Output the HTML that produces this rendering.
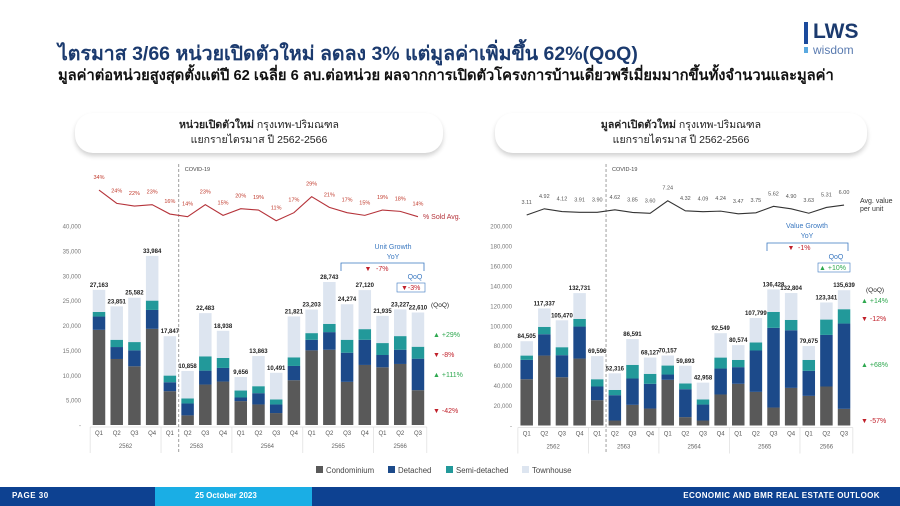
<!DOCTYPE html>
<html><head><meta charset="utf-8">
<style>
body{margin:0;width:900px;height:506px;overflow:hidden;background:#fff;font-family:"Liberation Sans","DejaVu Sans",sans-serif;position:relative}
.t{position:absolute;white-space:nowrap}
.hdr{position:absolute;border-radius:18px;box-shadow:0 3px 5px rgba(0,0,0,0.18);background:#fff;text-align:center;font-size:10.5px;color:#222;line-height:15px;padding-top:5px;box-sizing:border-box}
</style></head><body>
<div class="t" style="left:58px;top:38px;font-size:19.5px;color:#1b3a6e;font-weight:bold">ไตรมาส 3/66 หน่วยเปิดตัวใหม่ ลดลง 3% แต่มูลค่าเพิ่มขึ้น 62%(QoQ)</div>
<div class="t" style="left:58px;top:64px;font-size:14.7px;color:#111;font-weight:bold">มูลค่าต่อหน่วยสูงสุดตั้งแต่ปี 62 เฉลี่ย 6 ลบ.ต่อหน่วย ผลจากการเปิดตัวโครงการบ้านเดี่ยวพรีเมี่ยมมากขึ้นทั้งจำนวนและมูลค่า</div>
<div style="position:absolute;left:804px;top:20px">
<div style="position:absolute;left:0;top:2px;width:4px;height:22px;background:#1b4a9c"></div>
<div style="position:absolute;left:0;top:27px;width:4px;height:6px;background:#5aa9e0"></div>
<div class="t" style="left:9px;top:0;font-size:21px;font-weight:bold;color:#1b3a6e">LWS</div>
<div class="t" style="left:9px;top:23px;font-size:12px;color:#5a7bb0">wisdom</div>
</div>
<div class="hdr" style="left:75px;top:113px;width:368px;height:40px"><b>หน่วยเปิดตัวใหม่</b> กรุงเทพ-ปริมณฑล<br>แยกรายไตรมาส ปี 2562-2566</div>
<div class="hdr" style="left:495px;top:113px;width:372px;height:40px"><b>มูลค่าเปิดตัวใหม่</b> กรุงเทพ-ปริมณฑล<br>แยกรายไตรมาส ปี 2562-2566</div>

<svg id="chart" width="900" height="506" style="position:absolute;left:0;top:0" xmlns="http://www.w3.org/2000/svg" font-family="Liberation Sans, sans-serif"></svg>

<div style="position:absolute;left:0;top:487px;width:900px;height:19px;background:#0d4191">
<div style="position:absolute;left:155px;top:0;width:157px;height:19px;background:#1aaee5"></div>
<div class="t" style="left:12px;top:4px;font-size:8px;color:#fff;font-weight:bold;letter-spacing:0.5px">PAGE 30</div>
<div class="t" style="left:195px;top:4px;font-size:8px;color:#fff;font-weight:bold">25 October 2023</div>
<div class="t" style="right:20px;top:4px;font-size:8px;color:#fff;font-weight:bold;letter-spacing:0.4px">ECONOMIC AND BMR REAL ESTATE OUTLOOK</div>
</div>

<script>
const quarters=["Q1","Q2","Q3","Q4","Q1","Q2","Q3","Q4","Q1","Q2","Q3","Q4","Q1","Q2","Q3","Q4","Q1","Q2","Q3"];
const years=["2562","2563","2564","2565","2566"];
const yearSpans=[4,4,4,4,3];
const unitCondo=[19130,13270,11800,19330,6800,1930,8130,8730,4800,4130,2400,9000,15000,15130,8670,12070,11600,12270,7000];
const unitDetached=[2670,2400,3200,3800,1800,2400,2800,2740,730,2270,1730,2870,2130,3540,5860,5060,2470,2860,6330];
const unitSemi=[930,1460,1670,1870,1330,1000,2870,2000,1400,1400,1000,1730,1340,1660,2600,2140,2400,2740,2400];
const unitTotal=[27163,23851,25582,33984,17847,10858,22483,18938,9656,13863,10491,21821,23203,28743,24274,27120,21935,23227,22610];
const soldPct=[34,24,22,23,16,14,23,15,20,19,11,17,29,21,17,15,19,18,14];
const valCondo=[46400,70100,48400,67100,25400,5000,20700,17000,45800,8400,5000,31100,41800,33700,18000,37700,29700,39100,16700];
const valDetached=[19400,21400,22100,32100,13700,25400,26400,24800,5300,28000,16000,26000,16700,41500,79900,57800,25100,51700,85500];
const valSemi=[4300,7400,8000,7700,7300,5300,13700,10000,9000,5700,5100,11000,7300,8000,16000,10400,11000,15400,14400];
const valTotal=[84505,117337,105470,132731,69596,52316,86591,68127,70157,59893,42958,92549,80574,107799,136428,132804,79675,123341,135639];
const avgValue=[3.11,4.92,4.12,3.91,3.90,4.62,3.85,3.60,7.24,4.32,4.09,4.24,3.47,3.75,5.62,4.90,3.63,5.31,6.00];
const unitTicks=[0,5000,10000,15000,20000,25000,30000,35000,40000];
const valTicks=[0,20000,40000,60000,80000,100000,120000,140000,160000,180000,200000];

const svg=document.getElementById('chart');
const NS="http://www.w3.org/2000/svg";
const COLORS={condo:"#595959",det:"#1c4a8a",semi:"#22999a",town:"#dde5f0"};
function el(tag,attrs,parent){const e=document.createElementNS(NS,tag);for(const k in attrs)e.setAttribute(k,attrs[k]);(parent||svg).appendChild(e);return e;}
function txt(x,y,s,attrs,parent){const e=el('text',Object.assign({x:x,y:y},attrs),parent);e.textContent=s;return e;}
const fmt=v=>v.toLocaleString('en-US');

function drawChart(cfg){
  const g=el('g',{});
  
  
  const x=i=>cfg.x0+i*cfg.step;
  const y=v=>cfg.yBase-(v/cfg.max)*cfg.h;
  cfg.ticks.forEach(t=>{
    const l=txt(cfg.yLabelX,y(t)+2.5,t===0?"-":fmt(t),{'font-size':6,'fill':'#777','text-anchor':'end'},g);
    
    
  });
  const bw=12.5;
  for(let i=0;i<quarters.length;i++){
    const segs=[[cfg.condo[i],COLORS.condo,'condo'],[cfg.det[i],COLORS.det,'detached'],[cfg.semi[i],COLORS.semi,'semi'],[cfg.total[i]-cfg.condo[i]-cfg.det[i]-cfg.semi[i],COLORS.town,'townhouse']];
    let acc=0;
    segs.forEach(s=>{
      const r=el('rect',{x:x(i)-bw/2,y:y(acc+s[0]),width:bw,height:Math.max(0,y(acc)-y(acc+s[0])),fill:s[1]},g);
      
      
      acc+=s[0];
    });
    const lb=txt(x(i),y(cfg.total[i])-3,fmt(cfg.total[i]),{'font-size':6,'font-weight':'bold','fill':'#222','text-anchor':'middle'},g);
    
    
    const q=txt(x(i),cfg.yBase+10,quarters[i],{'font-size':6,'fill':'#555','text-anchor':'middle'},g);
    
    
  }
  let start=0;
  el('line',{x1:x(0)-cfg.step/2,x2:x(0)-cfg.step/2,y1:cfg.yBase+2,y2:cfg.yBase+28,stroke:'#ddd','stroke-width':0.7},g);
  years.forEach((yr,k)=>{
    const end=start+yearSpans[k];
    const xr=x(end-1)+cfg.step/2;
    el('line',{x1:xr,x2:xr,y1:cfg.yBase+2,y2:cfg.yBase+28,stroke:'#ddd','stroke-width':0.7},g);
    const yl=txt((x(start)+x(end-1))/2,cfg.yBase+23,yr,{'font-size':6,'fill':'#666','text-anchor':'middle'},g);
    
    
    start=end;
  });
  el('line',{x1:x(0)-cfg.step/2,x2:x(quarters.length-1)+cfg.step/2,y1:cfg.yBase+2,y2:cfg.yBase+2,stroke:'#ddd','stroke-width':0.7},g);
  const cx=(x(4)+x(5))/2;
  const cl=el('line',{x1:cx,x2:cx,y1:164,y2:cfg.yBase+28,stroke:'#888','stroke-width':0.8,'stroke-dasharray':'3,2'},g);
  
  
  txt(cx+6,171,"COVID-19",{'font-size':5.5,'fill':'#444'},g);
  const ly=v=>cfg.lineA-v*cfg.lineB;
  const pts=cfg.line.map((v,i)=>x(i)+','+ly(v)).join(' ');
  const pl=el('polyline',{points:pts,fill:'none',stroke:cfg.lineColor,'stroke-width':1.1},g);
  
  
  cfg.line.forEach((v,i)=>{
    const t=txt(x(i),ly(v)-11,cfg.lineFmt(v),{'font-size':5.5,'fill':cfg.lineLabelColor,'text-anchor':'middle'},g);
    
    
  });
  return g;
}
drawChart({name:'unit-chart',x0:99,step:17.72,yBase:425,h:199,max:40000,ticks:unitTicks,yLabelX:81,
  condo:unitCondo,det:unitDetached,semi:unitSemi,total:unitTotal,line:soldPct,lineA:235.4,lineB:1.335,
  lineColor:'#b5333a',lineLabelColor:'#c0392b',lineName:'sold-pct-line',lineFmt:v=>v+'%'});
drawChart({name:'value-chart',x0:526.7,step:17.63,yBase:425.5,h:199.5,max:200000,ticks:valTicks,yLabelX:512,
  condo:valCondo,det:valDetached,semi:valSemi,total:valTotal,line:avgValue,lineA:225.8,lineB:3.46,
  lineColor:'#333',lineLabelColor:'#555',lineName:'avg-value-line',lineFmt:v=>v.toFixed(2)});

function ann(x,y,s,color,size,anchor,name){const t=txt(x,y,s,{'font-size':size,'fill':color,'text-anchor':anchor||'start'});
  
  }
const G='#2ea84f',R='#c0202a',B='#3a78c0';
ann(423,219,"% Sold Avg.",'#b5333a',7,'start','sold-avg-label');
ann(393,249,"Unit Growth",B,7,'middle','unit-growth-title');
ann(393,259,"YoY",B,7,'middle','unit-yoy-title');
el('polyline',{points:'341,271 341,263 424,263 424,271',fill:'none',stroke:B,'stroke-width':0.8});
ann(368,271,"▼",R,7,'middle','unit-yoy-arrow');ann(376,271,"-7%",R,7,'start','unit-yoy-value');
ann(415,279,"QoQ",B,7,'middle','unit-qoq-title');
el('rect',{x:397,y:283,width:28,height:9,fill:'none',stroke:B,'stroke-width':0.6});
ann(401,290,"▼-3%",R,7,'start','unit-qoq-value');
ann(431,307,"(QoQ)",'#222',6.5,'start','unit-qoq-header');
ann(433,337,"▲ +29%",G,7,'start','qoq-townhouse');
ann(433,357,"▼ -8%",R,7,'start','qoq-semi');
ann(433,377,"▲ +111%",G,7,'start','qoq-detached');
ann(433,413,"▼ -42%",R,7,'start','qoq-condo');
ann(860,203,"Avg. value",'#333',7,'start','avg-value-label');
ann(860,211,"per unit",'#333',7,'start','avg-value-label2');
ann(807,228,"Value Growth",B,7,'middle','value-growth-title');
ann(807,238,"YoY",B,7,'middle','value-yoy-title');
el('polyline',{points:'767,251 767,243 848,243 848,251',fill:'none',stroke:B,'stroke-width':0.8});
ann(791,250,"▼",R,7,'middle','value-yoy-arrow');ann(798,250,"-1%",R,7,'start','value-yoy-value');
ann(836,259,"QoQ",B,7,'middle','value-qoq-title');
el('rect',{x:818,y:263,width:32,height:9,fill:'none',stroke:B,'stroke-width':0.6});
ann(819,270,"▲ +10%",G,7,'start','value-qoq-value');
ann(866,292,"(QoQ)",'#222',6.5,'start','value-qoq-header');
ann(861,303,"▲ +14%",G,7,'start','qoq-value-townhouse');
ann(861,321,"▼ -12%",R,7,'start','qoq-value-semi');
ann(861,367,"▲ +68%",G,7,'start','qoq-value-detached');
ann(861,423,"▼ -57%",R,7,'start','qoq-value-condo');
const legItems=[["Condominium",COLORS.condo],["Detached",COLORS.det],["Semi-detached",COLORS.semi],["Townhouse",COLORS.town]];
const legX=[316,388,446,522];
legItems.forEach((it,i)=>{
  const r=el('rect',{x:legX[i],y:466,width:7,height:7,fill:it[1]});
  
  
  const t=txt(legX[i]+10,473,it[0],{'font-size':7.8,'fill':'#444'});
  
  
});
</script>
</body></html>
